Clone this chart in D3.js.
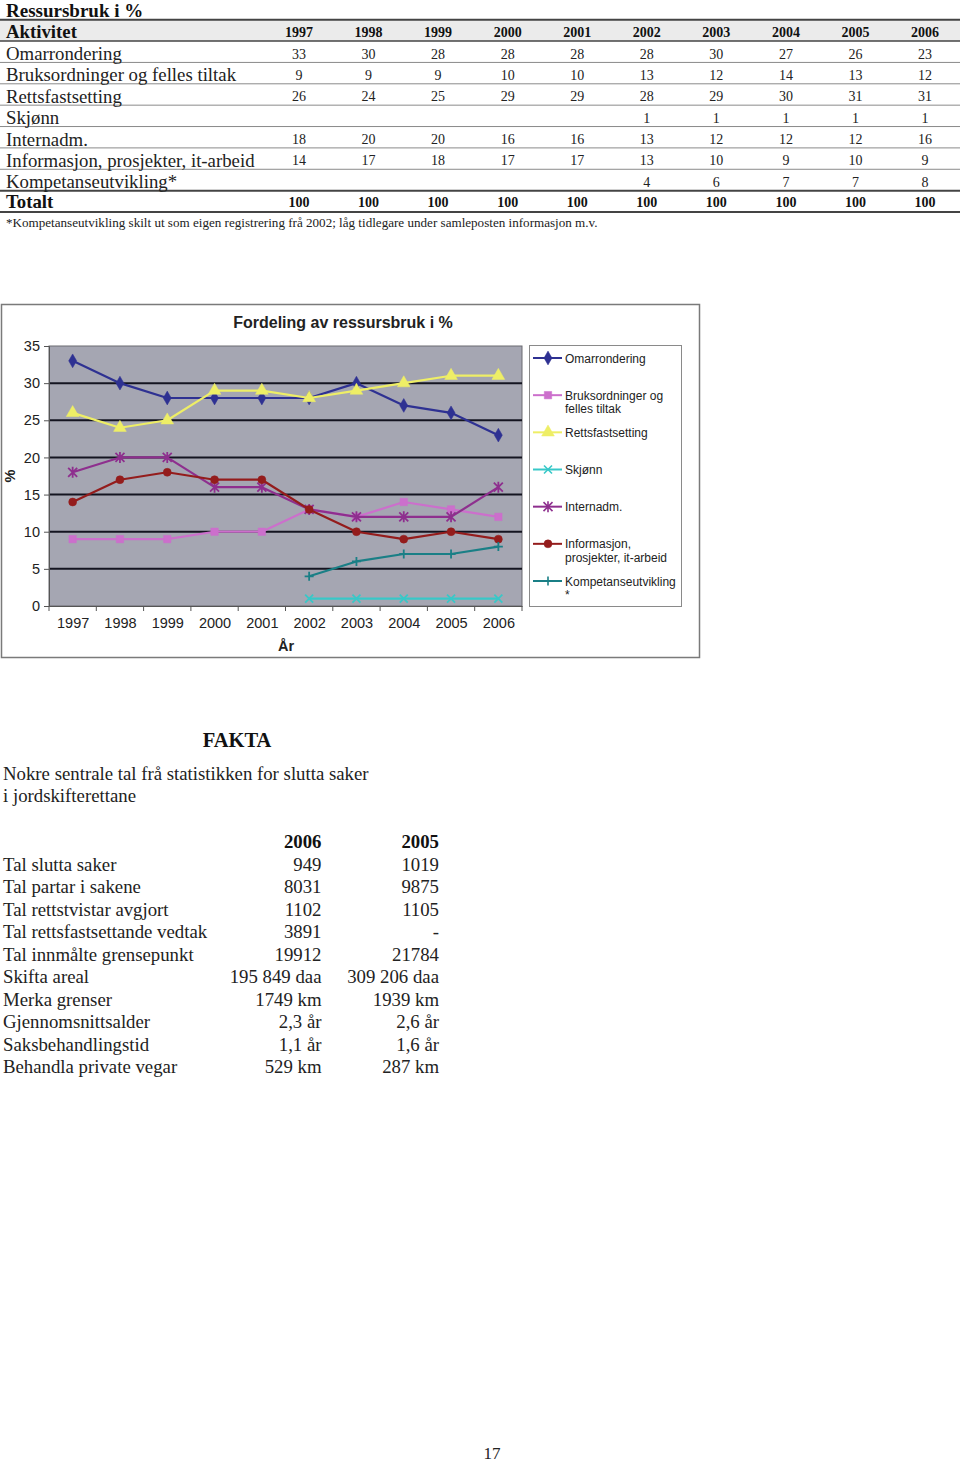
<!DOCTYPE html>
<html>
<head>
<meta charset="utf-8">
<script src="https://cdn.jsdelivr.net/npm/d3@7"></script>
<style>
  html, body { margin: 0; padding: 0; background: #fff; }
  svg { display: block; }
</style>
</head>
<body>
<svg id="page" width="960" height="1462"></svg>
<script>
// ---------------- DATA ----------------
const years = ["1997","1998","1999","2000","2001","2002","2003","2004","2005","2006"];
const seriesNames = ["Omarrondering","Bruksordninger og felles tiltak","Rettsfastsetting","Skjønn","Internadm.","Informasjon, prosjekter, it-arbeid","Kompetanseutvikling*"];
const omarrondering = [33,30,28,28,28,28,30,27,26,23];
const bruksordninger = [9,9,9,10,10,13,12,14,13,12];
const rettsfastsetting = [26,24,25,29,29,28,29,30,31,31];
const skjonn = [null,null,null,null,null,1,1,1,1,1];
const internadm = [18,20,20,16,16,13,12,12,12,16];
const informasjon = [14,17,18,17,17,13,10,9,10,9];
const kompetanse = [null,null,null,null,null,4,6,7,7,8];
const totalt = [100,100,100,100,100,100,100,100,100,100];
const legendLabels = [["Omarrondering"],["Bruksordninger og","felles tiltak"],["Rettsfastsetting"],["Skjønn"],["Internadm."],["Informasjon,","prosjekter, it-arbeid"],["Kompetanseutvikling","*"]];
const yTicks = [0,5,10,15,20,25,30,35];

const faktaLabels = ["Tal slutta saker","Tal partar i sakene","Tal rettstvistar avgjort","Tal rettsfastsettande vedtak","Tal innmålte grensepunkt","Skifta areal","Merka grenser","Gjennomsnittsalder","Saksbehandlingstid","Behandla private vegar"];
const fakta2006 = ["949","8031","1102","3891","19912","195 849 daa","1749 km","2,3 år","1,1 år","529 km"];
const fakta2005 = ["1019","9875","1105","-","21784","309 206 daa","1939 km","2,6 år","1,6 år","287 km"];

const seriesValues = [omarrondering, bruksordninger, rettsfastsetting, skjonn, internadm, informasjon, kompetanse];
const seriesColors = ["#2e3192","#cc6fcc","#eeee66","#38c8c8","#8e2f8e","#941c1c","#1a7f86"];
const seriesMarkers = ["diamond","square","triangle","x","asterisk","circle","plus"];

// ---------------- PAGE ----------------
const svg = d3.select("#page");
const SERIF = '"Liberation Serif", "Times New Roman", serif';
const SANS = '"Liberation Sans", Arial, sans-serif';
const FS = 18.8;

// ---------- TABLE ----------
svg.append("text").attr("x", 6).attr("y", 17).attr("font-family", SERIF)
  .attr("font-size", 19).attr("font-weight", "bold").attr("fill", "#111").text("Ressursbruk i %");

const rowKeys = ["head"].concat(seriesNames, ["Totalt"]);
const rowY = d3.scaleBand().domain(rowKeys).range([19.7, 212]);
const colX = d3.scalePoint().domain(years).range([299, 925]);

svg.append("rect").attr("x", 0).attr("y", rowY("head")).attr("width", 960)
  .attr("height", rowY.bandwidth()).attr("fill", "#ebebeb");

const sepYs = rowKeys.slice(1).map(k => rowY(k));
svg.selectAll("line.sep").data(sepYs).join("line").attr("class","sep")
  .attr("x1", 0).attr("x2", 960).attr("y1", d => d).attr("y2", d => d)
  .attr("stroke", (d,i) => (i === 0 || i === sepYs.length - 1) ? "#444" : "#8a8a8a")
  .attr("stroke-width", (d,i) => (i === sepYs.length - 1) ? 2 : (i === 0 ? 1.5 : 1));
svg.append("line").attr("x1",0).attr("x2",960).attr("y1",rowY("head")).attr("y2",rowY("head"))
  .attr("stroke","#444").attr("stroke-width",2);
svg.append("line").attr("x1",0).attr("x2",960).attr("y1",212).attr("y2",212)
  .attr("stroke","#444").attr("stroke-width",2);

svg.append("text").attr("x", 6).attr("y", rowY("head") + 18.5).attr("font-family", SERIF)
  .attr("font-size", FS).attr("font-weight", "bold").attr("fill", "#111").text("Aktivitet");
svg.selectAll("text.yh").data(years).join("text").attr("class","yh")
  .attr("x", d => colX(d)).attr("y", rowY("head") + 17).attr("text-anchor","middle")
  .attr("font-family", SERIF).attr("font-size", 14).attr("font-weight","bold").attr("fill","#111").text(d => d);

seriesNames.forEach((name, si) => {
  const y0 = rowY(name);
  svg.append("text").attr("x", 6).attr("y", y0 + 19).attr("font-family", SERIF)
    .attr("font-size", FS).attr("fill", "#222").text(name);
  svg.selectAll(null).data(seriesValues[si].map((v,i) => ({v, yr: years[i]})).filter(d => d.v !== null))
    .join("text").attr("x", d => colX(d.yr)).attr("y", y0 + 17.5).attr("text-anchor","middle")
    .attr("font-family", SERIF).attr("font-size", 14).attr("fill","#222").text(d => d.v);
});
svg.append("text").attr("x", 6).attr("y", rowY("Totalt") + 17.5).attr("font-family", SERIF)
  .attr("font-size", FS).attr("font-weight","bold").attr("fill", "#111").text("Totalt");
svg.selectAll("text.tot").data(totalt.map((v,i)=>({v, yr: years[i]}))).join("text").attr("class","tot")
  .attr("x", d => colX(d.yr)).attr("y", rowY("Totalt") + 16.5).attr("text-anchor","middle")
  .attr("font-family", SERIF).attr("font-size", 14).attr("font-weight","bold").attr("fill","#111").text(d => d.v);

svg.append("text").attr("x", 6).attr("y", 227).attr("font-family", SERIF).attr("font-size", 13.1)
  .attr("fill", "#222").text("*Kompetanseutvikling skilt ut som eigen registrering frå 2002; låg tidlegare under samleposten informasjon m.v.");

// ---------- CHART ----------
const chart = svg.append("g");
chart.append("rect").attr("x", 1.5).attr("y", 304.5).attr("width", 698).attr("height", 353)
  .attr("fill", "#fff").attr("stroke", "#7a7a7a").attr("stroke-width", 1.5);
chart.append("text").attr("x", 343).attr("y", 328).attr("text-anchor","middle")
  .attr("font-family", SANS).attr("font-size", 16).attr("font-weight","bold").attr("fill","#222")
  .text("Fordeling av ressursbruk i %");

const pL = 49, pR = 522, pT = 346, pB = 606;
const x = d3.scalePoint().domain(years).range([pL, pR]).padding(0.5);
const xb = d3.scaleBand().domain(years).range([pL, pR]);
const y = d3.scaleLinear().domain([0, 35]).range([pB, pT]);

chart.append("rect").attr("x", pL).attr("y", pT).attr("width", pR - pL).attr("height", pB - pT)
  .attr("fill", "#a5a6b2").attr("stroke", "#6a6a70").attr("stroke-width", 1);

chart.selectAll("line.grid").data(yTicks.filter(t => t > 0 && t < 35)).join("line").attr("class","grid")
  .attr("x1", pL).attr("x2", pR).attr("y1", d => y(d)).attr("y2", d => y(d))
  .attr("stroke", "#141420").attr("stroke-width", 2);

const yAxis = d3.axisLeft(y).tickValues(yTicks).tickSize(5).tickPadding(4);
const gy = chart.append("g").attr("transform", `translate(${pL},0)`).call(yAxis);
gy.select(".domain").attr("stroke", "#555");
gy.selectAll(".tick line").attr("stroke", "#555");
gy.selectAll(".tick text").attr("font-family", SANS).attr("font-size", 14.5).attr("fill", "#222");

const xAxis = d3.axisBottom(x).tickSize(0).tickPadding(12);
const gx = chart.append("g").attr("transform", `translate(0,${pB})`).call(xAxis);
gx.select(".domain").attr("stroke", "#555");
gx.selectAll(".tick text").attr("font-family", SANS).attr("font-size", 14.5).attr("fill", "#222");
chart.selectAll("line.xt").data(years.concat(["end"])).join("line").attr("class","xt")
  .attr("x1", (d,i) => pL + i * xb.step()).attr("x2", (d,i) => pL + i * xb.step())
  .attr("y1", pB).attr("y2", pB + 5).attr("stroke", "#555");

chart.append("text").attr("x", 286).attr("y", 651).attr("text-anchor","middle")
  .attr("font-family", SANS).attr("font-size", 14.5).attr("font-weight","bold").attr("fill","#222").text("År");
chart.append("text").attr("transform", "translate(15,476) rotate(-90)").attr("text-anchor","middle")
  .attr("font-family", SANS).attr("font-size", 14.5).attr("font-weight","bold").attr("fill","#222").text("%");

function markerPath(type) {
  switch (type) {
    case "diamond": return d3.symbol(d3.symbolDiamond, 55)();
    case "square": return d3.symbol(d3.symbolSquare, 55)();
    case "triangle": return d3.symbol(d3.symbolTriangle, 70)();
    case "circle": return d3.symbol(d3.symbolCircle, 50)();
    case "x": return "M-4,-4L4,4M-4,4L4,-4";
    case "asterisk": return "M-4.5,-4.5L4.5,4.5M-4.5,4.5L4.5,-4.5M0,-5.5L0,5.5";
    case "plus": return "M-4.5,0L4.5,0M0,-4.5L0,4.5";
  }
}
const strokeMarker = t => (t === "x" || t === "asterisk" || t === "plus");

const line = d3.line().defined(d => d.v !== null).x(d => x(d.yr)).y(d => y(d.v));
seriesValues.forEach((vals, si) => {
  const pts = vals.map((v,i) => ({v, yr: years[i]}));
  const col = seriesColors[si], mk = seriesMarkers[si];
  chart.append("path").datum(pts).attr("d", line).attr("fill","none")
    .attr("stroke", col).attr("stroke-width", 2.2).attr("stroke-linejoin","round");
  chart.selectAll(null).data(pts.filter(d => d.v !== null)).join("path")
    .attr("transform", d => `translate(${x(d.yr)},${y(d.v)})`)
    .attr("d", markerPath(mk))
    .attr("fill", strokeMarker(mk) ? "none" : col)
    .attr("stroke", col).attr("stroke-width", strokeMarker(mk) ? 1.8 : 0.5);
});

const lg = chart.append("g");
lg.append("rect").attr("x", 529.5).attr("y", 345.5).attr("width", 152).attr("height", 261)
  .attr("fill", "#fff").attr("stroke", "#8a8a8a").attr("stroke-width", 1);
const legY = d3.scalePoint().domain(seriesNames).range([358, 581]);
seriesNames.forEach((name, si) => {
  const yy = legY(name), col = seriesColors[si], mk = seriesMarkers[si];
  lg.append("line").attr("x1", 533).attr("x2", 562).attr("y1", yy).attr("y2", yy)
    .attr("stroke", col).attr("stroke-width", 2);
  lg.append("path").attr("transform", `translate(548,${yy})`).attr("d", markerPath(mk))
    .attr("fill", strokeMarker(mk) ? "none" : col).attr("stroke", col)
    .attr("stroke-width", strokeMarker(mk) ? 1.6 : 0.5);
  const t = lg.append("text").attr("x", 565).attr("y", yy + 4.5).attr("font-family", SANS)
    .attr("font-size", 12).attr("fill", "#222");
  legendLabels[si].forEach((ln, li) => {
    t.append("tspan").attr("x", 565).attr("dy", li === 0 ? 0 : 13.5).text(ln);
  });
});

// ---------- FAKTA ----------
svg.append("text").attr("x", 237).attr("y", 747).attr("text-anchor","middle").attr("font-family", SERIF)
  .attr("font-size", 20.5).attr("font-weight","bold").attr("fill","#111").text("FAKTA");
svg.append("text").attr("x", 3).attr("y", 780).attr("font-family", SERIF).attr("font-size", FS)
  .attr("fill","#222").text("Nokre sentrale tal frå statistikken for slutta saker");
svg.append("text").attr("x", 3).attr("y", 802).attr("font-family", SERIF).attr("font-size", FS)
  .attr("fill","#222").text("i jordskifterettane");

const fy = d3.scalePoint().domain(d3.range(faktaLabels.length)).range([870.7, 1073]);
svg.append("text").attr("x", 321.5).attr("y", 848).attr("text-anchor","end").attr("font-family", SERIF)
  .attr("font-size", FS).attr("font-weight","bold").attr("fill","#111").text("2006");
svg.append("text").attr("x", 439).attr("y", 848).attr("text-anchor","end").attr("font-family", SERIF)
  .attr("font-size", FS).attr("font-weight","bold").attr("fill","#111").text("2005");
svg.selectAll("text.fl").data(faktaLabels).join("text").attr("class","fl")
  .attr("x", 3).attr("y", (d,i) => fy(i)).attr("font-family", SERIF).attr("font-size", FS)
  .attr("fill","#222").text(d => d);
svg.selectAll("text.f6").data(fakta2006).join("text").attr("class","f6")
  .attr("x", 321.5).attr("y", (d,i) => fy(i)).attr("text-anchor","end").attr("font-family", SERIF)
  .attr("font-size", FS).attr("fill","#222").text(d => d);
svg.selectAll("text.f5").data(fakta2005).join("text").attr("class","f5")
  .attr("x", 439).attr("y", (d,i) => fy(i)).attr("text-anchor","end").attr("font-family", SERIF)
  .attr("font-size", FS).attr("fill","#222").text(d => d);

svg.append("text").attr("x", 492).attr("y", 1459).attr("text-anchor","middle").attr("font-family", SERIF)
  .attr("font-size", 17).attr("fill","#222").text("17");
</script>
</body>
</html>
